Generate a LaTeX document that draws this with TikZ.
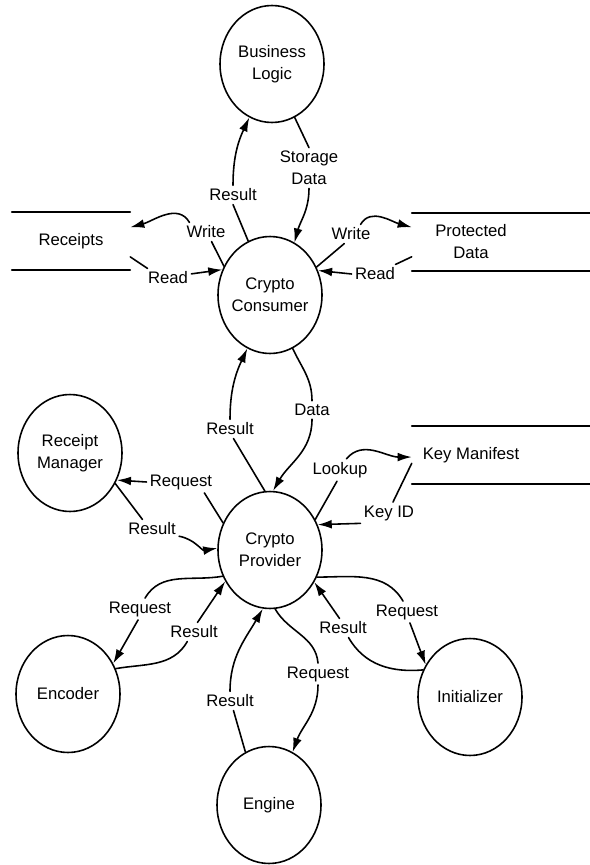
\documentclass[tikz,border=0pt]{standalone}
\usepackage{fontspec}
\setmainfont{Liberation Sans}
\usetikzlibrary{shapes.geometric, arrows.meta}

\begin{document}
\begin{tikzpicture}[x=0.02cm, y=0.02cm, line cap=round, line join=round, line width=0.9pt,
        font=\fontsize{9.5}{12.5}\selectfont,
        proc/.style={draw, ellipse, minimum width=2.08cm, minimum height=2.34cm, inner xsep=-2pt, inner ysep=2pt, align=center},
        store/.style={minimum width=2.34cm, minimum height=1.14cm, inner sep=0pt, align=center},
        lbl/.style={inner sep=1.5pt, align=center},
        flow/.style={-{Latex[length=8pt, width=5pt]}}]
        \useasboundingbox (0, 0) rectangle (590, -865);
        % draw processes
        \node[proc] (bl) at (272, -64) {Business\\Logic};
        \node[proc] (cc) at (270, -295) {Crypto\\Consumer};
        \node[proc] (cp) at (270, -550) {Crypto\\Provider};
        \node[proc] (rm) at (70, -453) {Receipt\\Manager};
        \node[proc] (enc) at (68, -694) {Encoder};
        \node[proc] (eng) at (269, -805) {Engine};
        \node[proc] (init) at (470, -697) {Initializer};
        % draw data stores
        \node[store] (rcpt) at (71, -241) {Receipts};
        \node[store] (pdat) at (471, -242) {Protected\\Data};
        \node[store] (keym) at (471, -455) {Key Manifest};
        \draw (rcpt.north west) -- (rcpt.north east) (rcpt.south west) -- (rcpt.south east);
        \draw (pdat.north west) -- ++(178, 0) (pdat.south west) -- ++(178, 0);
        \draw (keym.north west) -- ++(178, 0) (keym.south west) -- ++(178, 0);
        % draw business logic flows
        \node[lbl] (bres) at (233, -195) {Result};
        \node[lbl] (bdat) at (309, -168) {Storage\\Data};
        \draw (cc.112) -- (bres.south);
        \draw[flow] (bres.north) to[out=90, in=245] (bl.-113);
        \draw (bl.-67) -- (bdat.north);
        \draw[flow] (bdat.south) to[out=-90, in=75] (cc.65);
        % draw receipts flows
        \node[lbl] (rwr) at (206, -232) {Write};
        \node[lbl] (rrd) at (168, -278) {Read};
        \draw (cc.148) -- (rwr.-60);
        \draw[flow] (rwr.150) to[out=120, in=15] (rcpt.13);
        \draw (rcpt.-15) -- (rrd.155);
        \draw[flow] (rrd.10) -- (cc.152);
        % draw protected data flows
        \node[lbl] (pwr) at (351, -234) {Write};
        \node[lbl] (prd) at (375, -274) {Read};
        \draw (cc.31) -- (pwr.-125);
        \draw[flow] (pwr.45) to[out=60, in=165] (pdat.166);
        \draw (pdat.194) -- (prd.25);
        \draw[flow] (prd.west) -- (cc.27);
        % draw consumer to provider flows
        \node[lbl] (cdat) at (312, -410) {Data};
        \node[lbl] (cres) at (230, -429) {Result};
        \draw (cc.-67) to[out=-65, in=90] (cdat.north);
        \draw[flow] (cdat.south) to[out=-90, in=60] (cp.87);
        \draw (cp.95) -- (cres.-70);
        \draw[flow] (cres.north) to[out=90, in=245] (cc.-113);
        % draw receipt manager flows
        \node[lbl] (mreq) at (181, -482) {Request};
        \node[lbl] (mres) at (152, -529) {Result};
        \draw (cp.150) -- (mreq.-25);
        \draw[flow] (mreq.west) -- (rm.-30);
        \draw (rm.-34) -- (mres.135);
        \draw[flow] (mres.-15) to[out=-10, in=190] (cp.178);
        % draw key manifest flows
        \node[lbl] (klk) at (340, -470) {Lookup};
        \node[lbl] (kid) at (389, -513) {Key ID};
        \draw (cp.34) -- (klk.-105);
        \draw[flow] (klk.60) to[out=50, in=180] (keym.182);
        \draw (keym.188) -- (kid.70);
        \draw[flow] (kid.-160) -- (cp.28);
        % draw encoder flows
        \node[lbl] (ereq) at (140, -609) {Request};
        \node[lbl] (eres) at (194, -632) {Result};
        \draw (cp.209) to[out=190, in=60] (ereq.65);
        \draw[flow] (ereq.-100) -- (enc.34);
        \draw (enc.28) to[out=10, in=240] (eres.-125);
        \draw[flow] (eres.70) -- (cp.215);
        % draw engine flows
        \node[lbl] (greq) at (318, -674) {Request};
        \node[lbl] (gres) at (230, -701) {Result};
        \draw (cp.-85) to[out=-60, in=95] (greq.north);
        \draw[flow] (greq.south) to[out=-90, in=70] (eng.66);
        \draw (eng.114) -- (gres.-70);
        \draw[flow] (gres.north) to[out=90, in=240] (cp.-97);
        % draw initializer flows
        \node[lbl] (ireq) at (407, -612) {Request};
        \node[lbl] (ires) at (343, -628) {Result};
        \draw (cp.-30) to[out=0, in=120] (ireq.110);
        \draw[flow] (ireq.-75) -- (init.144);
        \draw (init.150) to[out=185, in=-60] (ires.-60);
        \draw[flow] (ires.110) -- (cp.-36);
\end{tikzpicture}
\end{document}
